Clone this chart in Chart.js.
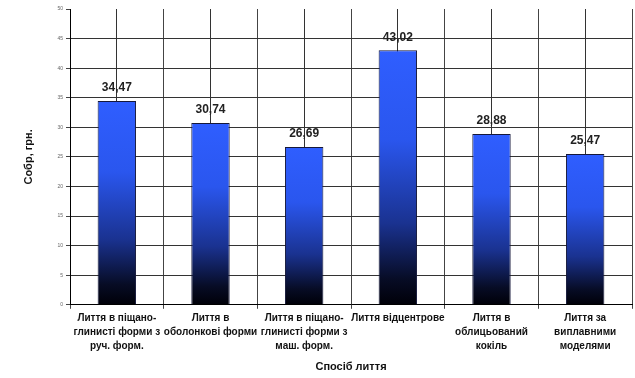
<!DOCTYPE html>
<html>
<head>
<meta charset="utf-8">
<script src="https://cdn.jsdelivr.net/npm/chart.js@4"></script>
<style>
    html, body { margin: 0; padding: 0; background: #fff; }
    #wrap { width: 635px; height: 378px; }
</style>
</head>
<body>
<div id="wrap"><canvas id="costChart"></canvas></div>
<script>
const categories = [
    ['Лиття в піщано-', 'глинисті форми з', 'руч. форм.'],
    ['Лиття в', 'оболонкові форми'],
    ['Лиття в піщано-', 'глинисті форми з', 'маш. форм.'],
    ['Лиття відцентрове'],
    ['Лиття в', 'облицьований', 'кокіль'],
    ['Лиття за', 'виплавними', 'моделями']
];
const costs = [34.47, 30.74, 26.69, 43.02, 28.88, 25.47];
const yTicks = [0, 5, 10, 15, 20, 25, 30, 35, 40, 45, 50];

const fontFamily = 'Arial, "Liberation Sans", sans-serif';

// градієнт для кожного стовпчика окремо: синій зверху, чорний знизу
function barGradient(context) {
    const chart = context.chart;
    const scales = chart.scales;
    if (!chart.chartArea || !scales.y) return '#2d5bff';
    const v = context.raw;
    const top = scales.y.getPixelForValue(v);
    const bottom = scales.y.getPixelForValue(0);
    const g = chart.ctx.createLinearGradient(0, top, 0, bottom);
    g.addColorStop(0, '#2f5eff');
    g.addColorStop(0.35, '#2a56ee');
    g.addColorStop(0.68, '#1a3290');
    g.addColorStop(0.9, '#070c25');
    g.addColorStop(1, '#000008');
    return g;
}

const valueLabels = {
    id: 'valueLabels',
    afterDatasetsDraw(chart) {
        const ctx = chart.ctx;
        const meta = chart.getDatasetMeta(0);
        ctx.save();
        ctx.font = 'bold 12px ' + fontFamily;
        ctx.fillStyle = '#222';
        ctx.textAlign = 'center';
        ctx.textBaseline = 'middle';
        meta.data.forEach((bar, i) => {
            ctx.fillText(costs[i].toFixed(2).replace('.', ','), bar.x, bar.y - 13);
        });
        ctx.restore();
    }
};

new Chart(document.getElementById('costChart'), {
    type: 'bar',
    data: {
        labels: categories,
        datasets: [{
            data: costs,
            backgroundColor: barGradient,
            borderColor: '#15183a',
            borderWidth: 1,
            categoryPercentage: 1,
            barPercentage: 0.41
        }]
    },
    options: {
        responsive: true,
        maintainAspectRatio: false,
        animation: false,
        layout: { padding: { left: 18, right: 3, top: 9, bottom: 4 } },
        plugins: {
            legend: { display: false },
            tooltip: { enabled: false }
        },
        scales: {
            x: {
                offset: true,
                grid: {
                    offset: true,
                    color: '#444',
                    lineWidth: 1,
                    tickLength: 4
                },
                border: { color: '#000', width: 1 },
                ticks: {
                    color: '#111',
                    padding: 2,
                    maxRotation: 0,
                    autoSkip: false,
                    font: { family: fontFamily, size: 10, weight: 'bold', lineHeight: 1.4 }
                },
                title: {
                    display: true,
                    text: 'Спосіб лиття',
                    color: '#111',
                    padding: { top: 6, bottom: 0 },
                    font: { family: fontFamily, size: 11, weight: 'bold' }
                }
            },
            // друга вісь тільки для ліній по центру категорій
            x2: {
                type: 'category',
                labels: categories,
                position: 'bottom',
                offset: true,
                grid: { offset: false, color: '#333', drawTicks: false },
                border: { display: false },
                ticks: { display: false },
                afterFit(scale) { scale.height = 0; }
            },
            y: {
                min: 0,
                max: 50,
                afterBuildTicks(scale) {
                    scale.ticks = yTicks.map(v => ({ value: v }));
                },
                afterFit(scale) { scale.width = 52; },
                grid: {
                    color: ctx => (ctx.tick && ctx.tick.value === 50) ? 'rgba(0,0,0,0)' : '#333',
                    tickColor: '#444',
                    tickLength: 4
                },
                border: { color: '#000', width: 1 },
                ticks: {
                    color: '#666',
                    padding: 3,
                    font: { family: fontFamily, size: 5 }
                },
                title: {
                    display: true,
                    text: 'Собр, грн.',
                    color: '#111',
                    padding: { top: 4, bottom: 0 },
                    font: { family: fontFamily, size: 11, weight: 'bold' }
                }
            }
        }
    },
    plugins: [valueLabels]
});
</script>
</body>
</html>
